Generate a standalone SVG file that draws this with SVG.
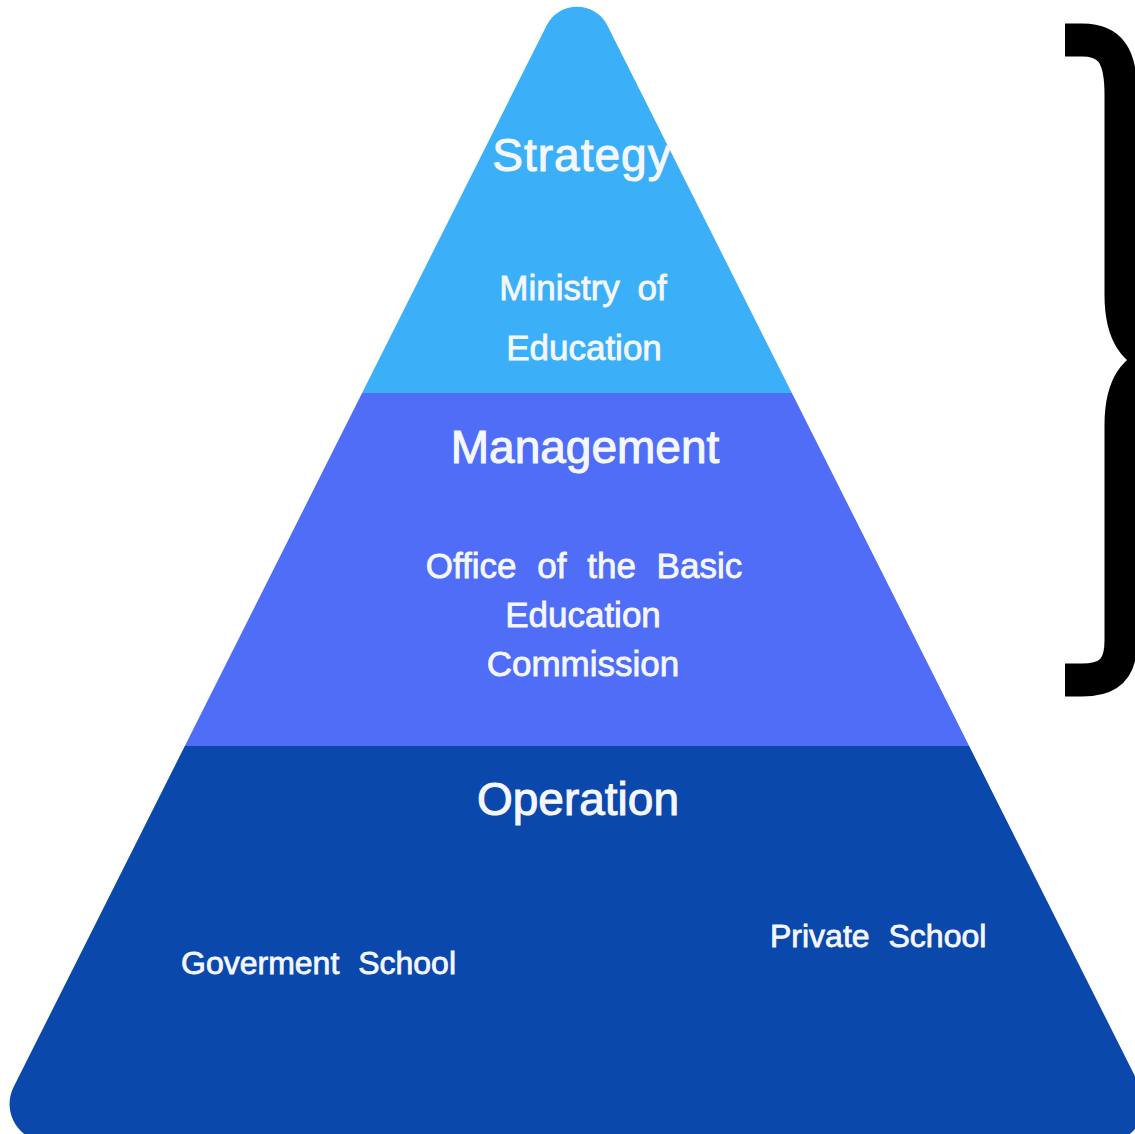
<svg xmlns="http://www.w3.org/2000/svg" width="1135" height="1134" viewBox="0 0 1135 1134">
  <defs>
    <clipPath id="tri">
      <path d="M607.4,25.5 L1140.4,1087 A38,38 0 0 1 1106.4,1142 L47.6,1142 A38,38 0 0 1 13.6,1087 L546.6,25.5 A34,34 0 0 1 607.4,25.5 Z"/>
    </clipPath>
  </defs>
  <style>
    .lbl { font-family: "Liberation Sans", Arial, sans-serif; fill: #f5f7ff; stroke: #f5f7ff; stroke-width: 0.8px; text-anchor: middle; }
    .head { font-size: 46px; stroke-width: 1px; }
    .sub { font-size: 35px; }
    .school { font-size: 32px; text-anchor: start; word-spacing: 10px; }
  </style>
  <rect width="1135" height="1134" fill="#ffffff"/>
  <g id="pyramid" clip-path="url(#tri)">
    <g id="strategy">
      <rect x="0" y="-40" width="1135" height="433" fill="#3bb0f9"/>
    </g>
    <g id="management">
      <rect x="0" y="393" width="1135" height="353" fill="#4f6df6"/>
    </g>
    <g id="operation">
      <rect x="0" y="746" width="1135" height="400" fill="#0a48ab"/>
    </g>
  </g>
  <g id="labels">
    <text class="lbl head" x="582" y="171" font-size="47" letter-spacing="1">Strategy</text>
    <text class="lbl sub" x="583" y="300" word-spacing="8">Ministry of</text>
    <text class="lbl sub" x="584" y="360" font-size="33">Education</text>
    <text class="lbl head" x="585" y="463">Management</text>
    <text class="lbl sub" x="584" y="578" word-spacing="11">Office of the Basic</text>
    <text class="lbl sub" x="583" y="627">Education</text>
    <text class="lbl sub" x="583" y="676">Commission</text>
    <text class="lbl head" x="578" y="815">Operation</text>
    <text class="lbl school" x="181" y="974">Goverment School</text>
    <text class="lbl school" x="770" y="947">Private School</text>
  </g>
  <g id="connectors">
    <path id="bracket" d="M1065,40 H1082 C1110,40 1121,55 1121,95 V295 C1121,335 1135,352 1160,360 C1135,368 1121,385 1121,425 V640 C1121,668 1110,680 1082,680 H1065" fill="none" stroke="#000000" stroke-width="33"/>
  </g>
</svg>
